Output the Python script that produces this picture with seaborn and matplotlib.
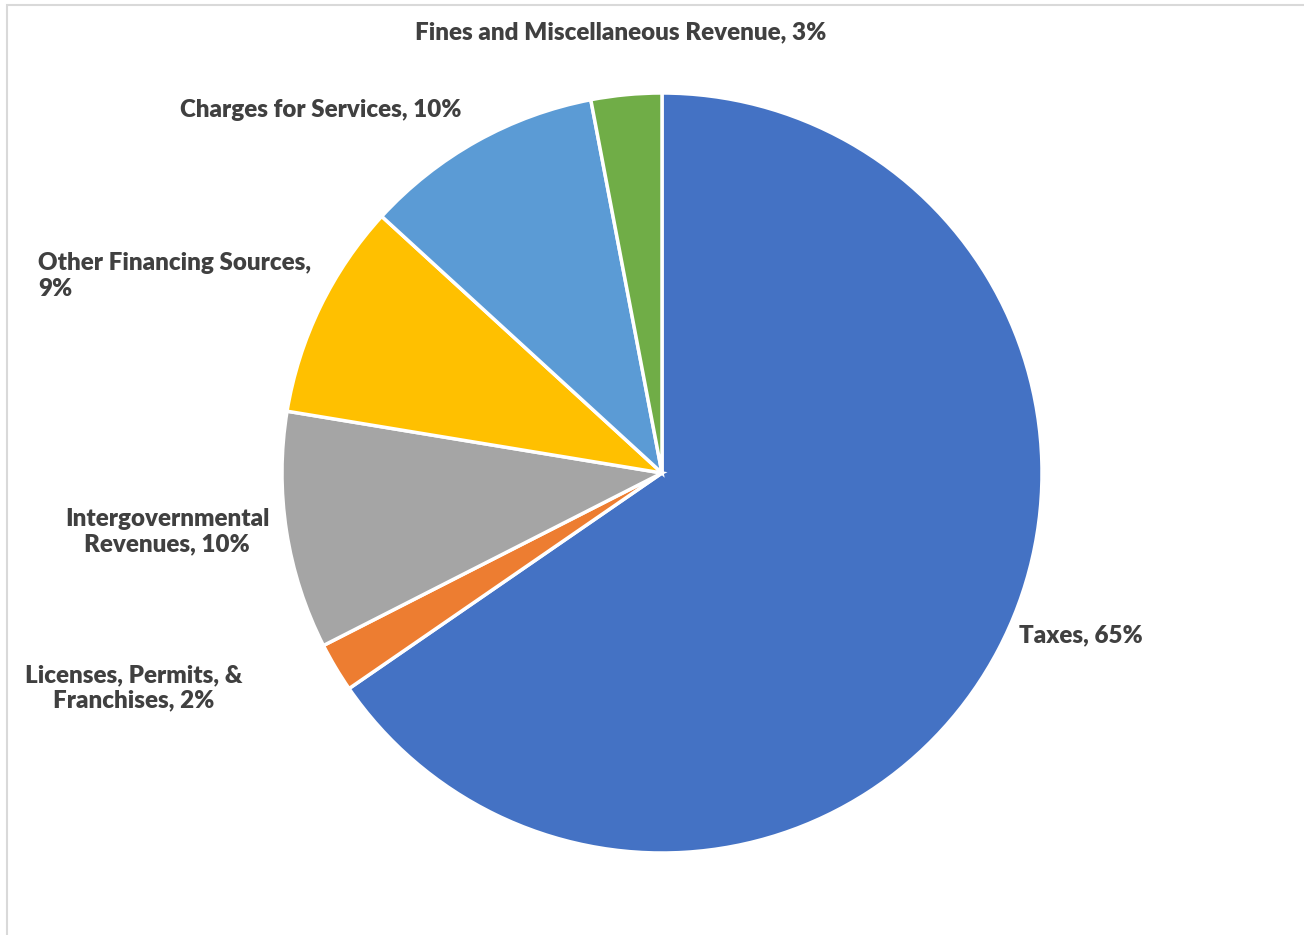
import matplotlib
matplotlib.use("Agg")
import matplotlib.pyplot as plt
import seaborn as sns
from matplotlib.patches import Rectangle

categories = ["Taxes", "Licenses, Permits, &\nFranchises", "Intergovernmental\nRevenues",
              "Other Financing Sources,\n", "Charges for Services", "Fines and Miscellaneous Revenue"]
values = [65.4, 2.1, 10.1, 9.2, 10.2, 3.0]
colors = ["#4472C4", "#ED7D31", "#A5A5A5", "#FFC000", "#5B9BD5", "#70AD47"]

sns.set_theme(style="white")
plt.rcParams['font.family'] = ['Lato', 'DejaVu Sans']

W, H = 1304, 935
fig = plt.figure(figsize=(W / 100, H / 100), dpi=100)
fig.patch.set_facecolor("white")

cx, cy, r = 662, 473, 380
ax = fig.add_axes([(cx - r) / W, (H - cy - r) / H, 2 * r / W, 2 * r / H])
ax.pie(values, colors=colors, startangle=90, counterclock=False, radius=1,
       wedgeprops=dict(edgecolor="white", linewidth=2.5))
ax.set_xlim(-1, 1)
ax.set_ylim(-1, 1)
ax.set_aspect("equal")
ax.axis("off")

# chart frame (left and top visible)
fig.add_artist(Rectangle((7 / W, -0.01), 1.2, (H - 5) / H + 0.01, transform=fig.transFigure,
                         fill=False, edgecolor="#d9d9d9", linewidth=1.5))

total = sum(values)
pct = [f"{round(v / total * 100)}%" for v in values]

def lab(i):
    c = categories[i]
    if c.endswith("\n"):
        return c + pct[i]
    return f"{c}, {pct[i]}"

label_pos = [  # (x px, y px, ha, multialign)
    (1019, 635, "left", "left"),
    (134, 688, "center", "center"),
    (167, 532, "center", "center"),
    (38, 276, "left", "left"),
    (321, 110, "center", "center"),
    (621, 32, "center", "center"),
]
for i, (x, y, ha, ma) in enumerate(label_pos):
    fig.text(x / W, 1 - y / H, lab(i), ha=ha, va="center", multialignment=ma,
             fontsize=17.4, fontweight="heavy", color="#404040", linespacing=1.17)

fig.savefig("out.png", dpi=100, facecolor="white")
